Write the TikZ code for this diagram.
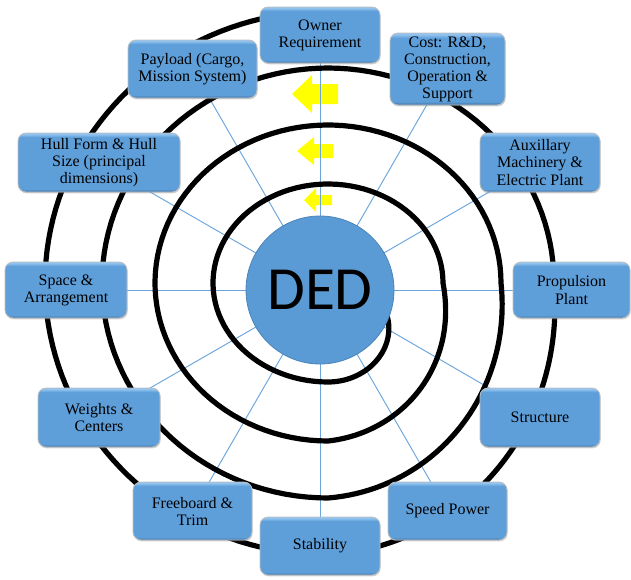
\documentclass[tikz,border=0pt]{standalone}
\usepackage{fontspec}
\setmainfont{Liberation Serif}
\newfontfamily\dedfont{Carlito}
\newfontfamily\boxfont{Liberation Serif}
\usetikzlibrary{shadows}
\definecolor{boxblue}{HTML}{5E9FDA}
\definecolor{bevlight}{HTML}{92C3EE}
\definecolor{bevdark}{HTML}{3E73A6}
\definecolor{dedblue}{HTML}{5B9BD5}
\definecolor{dedborder}{HTML}{4A84BA}
\definecolor{connblue}{HTML}{6AA5DC}
\definecolor{arrowyellow}{HTML}{FFFF00}
\pgfdeclareverticalshading{bevel}{100bp}{color(0bp)=(bevdark); color(25bp)=(bevdark); color(27.5bp)=(boxblue); color(71.5bp)=(boxblue); color(74bp)=(bevlight); color(100bp)=(bevlight)}
\pgfdeclarelayer{bg}
\pgfsetlayers{bg,main}
\tikzset{
  stagebox/.style={rectangle, rounded corners=6pt, shading=bevel, draw=black!25, line width=0.6pt,
    drop shadow={shadow xshift=0.5pt, shadow yshift=-1pt, opacity=0.35},
    align=center, inner sep=2pt, font=\boxfont\fontsize{12}{12.8}\selectfont, text=black},
  conn/.style={draw=connblue, line width=0.7pt},
  spiralline/.style={draw=black, line width=3.9pt, line join=round},
  yarrow/.style={fill=arrowyellow, draw=none}
}
\begin{document}
\begin{tikzpicture}[x=0.75pt,y=-0.75pt,
  declare function={blendf(\t)=0.5*(\t-270)/90+0.25*(1-cos(2*(\t-270)));
                    easein(\t)=1-cos(\t-270);}]
\useasboundingbox (0,0) rectangle (631,579);

% central node
\node[circle, fill=dedblue, draw=dedborder, line width=0.6pt, minimum size=111pt, inner sep=0pt] (ded) at (320,290)
  {\dedfont\fontsize{46}{46}\selectfont DED};

% stage boxes
\node[stagebox, minimum width=90pt,    minimum height=42pt]    (owner)   at (320,35)    {Owner\\Requirement};
\node[stagebox, minimum width=86.25pt, minimum height=54pt]    (cost)    at (447.5,69)  {Cost: R\&D,\\Construction,\\Operation \&\\Support};
\node[stagebox, minimum width=90pt,    minimum height=44.25pt] (aux)     at (540,162.5) {Auxillary\\Machinery \&\\Electric Plant};
\node[stagebox, minimum width=87.75pt, minimum height=42pt]    (prop)    at (571.5,290) {Propulsion\\Plant};
\node[stagebox, minimum width=90pt,    minimum height=44.25pt] (struct)  at (540,417.5) {Structure};
\node[stagebox, minimum width=89.25pt, minimum height=43.5pt]  (speed)   at (447.5,511) {Speed Power};
\node[stagebox, minimum width=90pt,    minimum height=43.5pt]  (stab)    at (320,546)   {Stability};
\node[stagebox, minimum width=89.25pt, minimum height=43.5pt]  (freeb)   at (192.5,511) {Freeboard \&\\Trim};
\node[stagebox, minimum width=91.5pt,  minimum height=44.25pt] (weights) at (99,417.5)  {Weights \&\\Centers};
\node[stagebox, minimum width=91.5pt,  minimum height=42pt]    (space)   at (66,290)    {Space \&\\Arrangement};
\node[stagebox, minimum width=121.5pt, minimum height=44.25pt] (hull)    at (99,162.5)  {Hull Form \& Hull\\Size (principal\\dimensions)};
\node[stagebox, minimum width=96.75pt, minimum height=43.5pt]  (payload) at (192.5,69)  {Payload (Cargo,\\Mission System)};

\begin{pgfonlayer}{bg}
\fill[white] (0,0) rectangle (631,579);
% yellow direction arrows
\fill[yarrow] (292,94) -- (312,75) -- (312,84) -- (338,84) -- (338,104) -- (312,104) -- (312,113) -- cycle;
\fill[yarrow] (297,151) -- (314,137) -- (314,144) -- (333,144) -- (333,158) -- (314,158) -- (314,165) -- cycle;
\fill[yarrow] (304,200) -- (316,188) -- (316,195) -- (332,195) -- (332,205) -- (316,205) -- (316,212) -- cycle;

% connectors
\foreach \b in {owner,cost,aux,prop,struct,speed,stab,freeb,weights,space,hull,payload}
  \draw[conn] (ded.center) -- (\b.center);

% design spiral (rings joined by transitions in the lower right quadrant)
\def\cx{328}\def\cy{283}
\draw[spiralline]
  plot[domain=92:270,samples=80] ({\cx+283*cos(\x)},{\cy-272*sin(\x)})
  -- plot[domain=270:360,samples=50] ({\cx+(283-57*blendf(\x))*cos(\x)},{\cy-(272-57*blendf(\x))*sin(\x)})
  -- plot[domain=0:270,samples=100] ({\cx+226*cos(\x)},{\cy-215*sin(\x)})
  -- plot[domain=270:360,samples=50] ({\cx+(226-53*blendf(\x))*cos(\x)},{\cy-(215-57*blendf(\x))*sin(\x)})
  -- plot[domain=0:270,samples=90] ({\cx+173*cos(\x)},{\cy-158*sin(\x)})
  -- plot[domain=270:360,samples=50] ({\cx+(173-58*blendf(\x))*cos(\x)},{\cy-(158-59*blendf(\x))*sin(\x)})
  -- plot[domain=0:270,samples=80] ({\cx+115*cos(\x)},{\cy-99*sin(\x)})
  -- plot[domain=270:330,samples=40] ({\cx+(115-100*easein(\x))*cos(\x)},{\cy-(99-95*easein(\x))*sin(\x)});
\end{pgfonlayer}
\end{tikzpicture}
\end{document}
